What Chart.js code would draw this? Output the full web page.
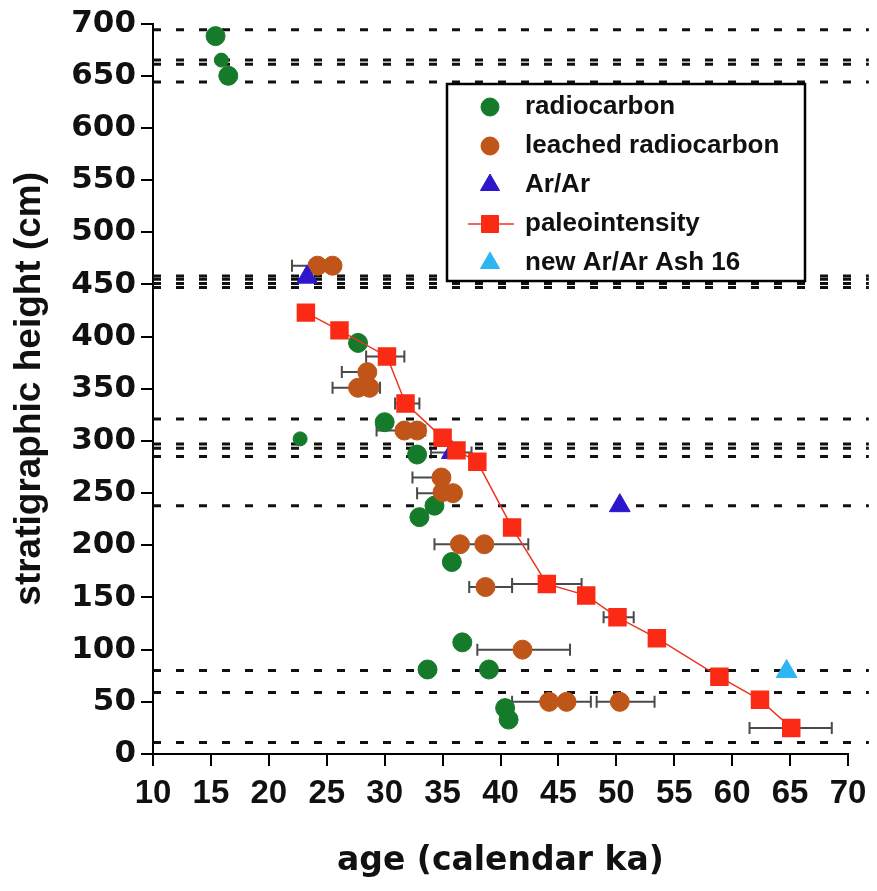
<!DOCTYPE html>
<html>
<head>
<meta charset="utf-8">
<script src="https://cdn.jsdelivr.net/npm/chart.js@4"></script>
<style>
  html, body { margin: 0; padding: 0; background: #fff; }
</style>
</head>
<body>
<canvas id="ageChart" width="877" height="891"></canvas>
<script>
// values: age in calendar ka, height in cm
const radiocarbonAge    = [15.4, 15.9, 16.5, 27.7, 30.0, 22.7, 32.8, 34.3, 33.0, 35.8, 36.7, 33.7, 39.0, 40.4, 40.7];
const radiocarbonHeight = [688, 665, 650, 394, 318, 302, 287, 238, 227, 184, 107, 81, 81, 44, 33];

const leachedAge    = [24.2, 25.5, 28.5, 27.7, 28.7, 31.7, 32.8, 34.9, 35.0, 35.9, 36.5, 38.6, 38.7, 41.9, 44.2, 45.7, 50.3];
const leachedHeight = [468, 468, 366, 351, 351, 310, 310, 265, 251, 250, 201, 201, 160, 100, 50, 50, 50];

const arArAge    = [23.3, 35.8, 50.3];
const arArHeight = [457, 289, 238];

const paleoAge    = [23.2, 26.1, 30.2, 31.8, 35.0, 36.2, 38.0, 41.0, 44.0, 47.4, 50.1, 53.5, 58.9, 62.4, 65.1];
const paleoHeight = [423, 406, 381, 336, 303, 291, 280, 217, 163, 152, 131, 111, 74, 52, 25];

const newArArAge    = [64.7];
const newArArHeight = [79];

// horizontal age error bars
const errHeight = [468, 381, 366, 351, 336, 310, 289, 265, 250, 201, 160, 163, 131, 100, 50, 50, 25];
const errLow    = [22.0, 28.4, 26.3, 25.5, 30.9, 29.3, 34.0, 32.4, 32.8, 34.3, 37.3, 41.0, 48.9, 38.0, 41.0, 48.3, 61.5];
const errHigh   = [24.8, 31.7, 29.0, 29.6, 33.0, 33.5, 37.5, 35.5, 36.0, 42.4, 41.0, 47.0, 51.5, 46.0, 47.8, 53.3, 68.6];

// dotted horizons (ash layers etc.)
const horizonHeights = [694, 665, 661, 644, 458, 455, 451, 447, 321, 297, 293, 285, 238, 80, 59, 11];
const horizonFrom = 10, horizonTo = 71.8;

const xTicks = [10, 15, 20, 25, 30, 35, 40, 45, 50, 55, 60, 65, 70];
const yTicks = [0, 50, 100, 150, 200, 250, 300, 350, 400, 450, 500, 550, 600, 650, 700];

const pts = (xs, ys) => xs.map((v, i) => ({x: v, y: ys[i]}));

const errorBars = {
  id: 'errorBars',
  beforeDatasetsDraw(chart) {
    const {ctx, scales: {x, y}} = chart;
    ctx.save();
    ctx.strokeStyle = '#4a4a4a';
    ctx.lineWidth = 2;
    errHeight.forEach((h, i) => {
      const py = y.getPixelForValue(h);
      const x0 = x.getPixelForValue(errLow[i]);
      const x1 = x.getPixelForValue(errHigh[i]);
      ctx.beginPath();
      ctx.moveTo(x0, py); ctx.lineTo(x1, py);
      ctx.moveTo(x0, py - 6); ctx.lineTo(x0, py + 6);
      ctx.moveTo(x1, py - 6); ctx.lineTo(x1, py + 6);
      ctx.stroke();
    });
    ctx.restore();
  }
};

// boxed legend inside the plot, like the original
const boxLegend = {
  id: 'boxLegend',
  afterDraw(chart) {
    const ctx = chart.ctx;
    const left = 447, top = 84, w = 358, h = 197;
    ctx.save();
    ctx.fillStyle = '#fff';
    ctx.fillRect(left, top, w, h);
    ctx.strokeStyle = '#000';
    ctx.lineWidth = 2.5;
    ctx.strokeRect(left, top, w, h);
    const items = chart.data.datasets.filter(d => d.inLegend).sort((a, b) => a.legendRank - b.legendRank);
    items.forEach((d, i) => {
      const cy = top + 23 + i * 39;
      const mx = left + 43;
      if (d.showLine) {
        ctx.strokeStyle = d.borderColor;
        ctx.lineWidth = 1.5;
        ctx.beginPath(); ctx.moveTo(mx - 22, cy); ctx.lineTo(mx + 24, cy); ctx.stroke();
      }
      ctx.fillStyle = d.pointBackgroundColor;
      ctx.strokeStyle = d.pointBorderColor;
      ctx.lineWidth = 1;
      Chart.helpers.drawPoint(ctx, {
        pointStyle: d.pointStyle, radius: d.legendRadius, borderWidth: 1, rotation: 0
      }, mx, cy);
      ctx.fillStyle = '#111';
      ctx.font = 'bold 26px "Liberation Sans", Arial, sans-serif';
      ctx.textBaseline = 'middle';
      ctx.fillText(d.label, left + 78, cy);
    });
    ctx.restore();
  }
};

const horizonSets = horizonHeights.map(h => ({
  type: 'line',
  data: [{x: horizonFrom, y: h}, {x: horizonTo, y: h}],
  borderColor: '#111',
  borderWidth: 3,
  borderDash: [8, 15],
  pointRadius: 0,
  clip: false,
  order: 10
}));

const chart = new Chart(document.getElementById('ageChart'), {
  type: 'scatter',
  data: {
    datasets: [
      {
        label: 'new Ar/Ar Ash 16', inLegend: true, legendRank: 5,
        data: pts(newArArAge, newArArHeight),
        pointStyle: 'triangle', pointRadius: 12, legendRadius: 11,
        pointBackgroundColor: '#2fb6f2', pointBorderColor: '#2fb6f2',
        order: 1
      },
      {
        label: 'paleointensity', inLegend: true, legendRank: 4,
        type: 'line', showLine: true,
        data: pts(paleoAge, paleoHeight),
        borderColor: '#ee3322', borderWidth: 1.5,
        pointStyle: 'rect', pointRadius: 12, legendRadius: 12,
        pointBackgroundColor: '#fa2a14', pointBorderColor: '#fa2a14',
        order: 2
      },
      {
        label: 'Ar/Ar', inLegend: true, legendRank: 3,
        data: pts(arArAge, arArHeight),
        pointStyle: 'triangle', pointRadius: 12, legendRadius: 11,
        pointBackgroundColor: '#2d17cc', pointBorderColor: '#2d17cc',
        order: 3
      },
      {
        label: 'leached radiocarbon', inLegend: true, legendRank: 2,
        data: pts(leachedAge, leachedHeight),
        pointStyle: 'circle', pointRadius: 9.5, legendRadius: 9,
        pointBackgroundColor: '#bf5518', pointBorderColor: '#bf5518',
        order: 4
      },
      {
        label: 'radiocarbon', inLegend: true, legendRank: 1,
        data: pts(radiocarbonAge, radiocarbonHeight),
        pointStyle: 'circle',
        pointRadius: [9.5, 7, 9.5, 9.5, 9.5, 7, 9.5, 9.5, 9.5, 9.5, 9.5, 9.5, 9.5, 9.5, 9.5],
        legendRadius: 9,
        pointBackgroundColor: '#157a2a', pointBorderColor: '#157a2a',
        order: 5
      },
      ...horizonSets
    ]
  },
  options: {
    responsive: false,
    animation: false,
    layout: { padding: { top: 23, right: 29, left: 0, bottom: 0 } },
    plugins: {
      legend: { display: false },
      tooltip: { enabled: false }
    },
    scales: {
      x: {
        type: 'linear',
        min: 10, max: 70,
        afterFit: s => { s.height = 137; },
        afterBuildTicks: s => { s.ticks = xTicks.map(v => ({value: v})); },
        border: { display: true, color: '#000', width: 2 },
        grid: { drawOnChartArea: false, drawTicks: true, tickLength: 12, color: '#000', lineWidth: 2 },
        ticks: {
          color: '#111', padding: 8, autoSkip: false, maxRotation: 0,
          font: { family: '"Liberation Sans", Arial, sans-serif', size: 33, weight: 'bold' }
        },
        title: {
          display: true, text: 'age (calendar ka)', color: '#111',
          padding: { top: 0, bottom: 10 },
          font: { family: '"DejaVu Sans", sans-serif', size: 33, weight: 'bold' }
        }
      },
      y: {
        type: 'linear',
        min: 0, max: 700,
        afterFit: s => { s.width = 153; },
        afterBuildTicks: s => { s.ticks = yTicks.map(v => ({value: v})); },
        border: { display: true, color: '#000', width: 2 },
        grid: { drawOnChartArea: false, drawTicks: true, tickLength: 12, color: '#000', lineWidth: 2 },
        ticks: {
          color: '#111', padding: 5, autoSkip: false,
          font: { family: '"DejaVu Sans", sans-serif', size: 31, weight: 'bold' }
        },
        title: {
          display: true, text: 'stratigraphic height (cm)', color: '#111',
          padding: { top: 8, bottom: 0 },
          font: { family: '"Liberation Sans", Arial, sans-serif', size: 37, weight: 'bold' }
        }
      }
    }
  },
  plugins: [errorBars, boxLegend]
});
</script>
</body>
</html>
